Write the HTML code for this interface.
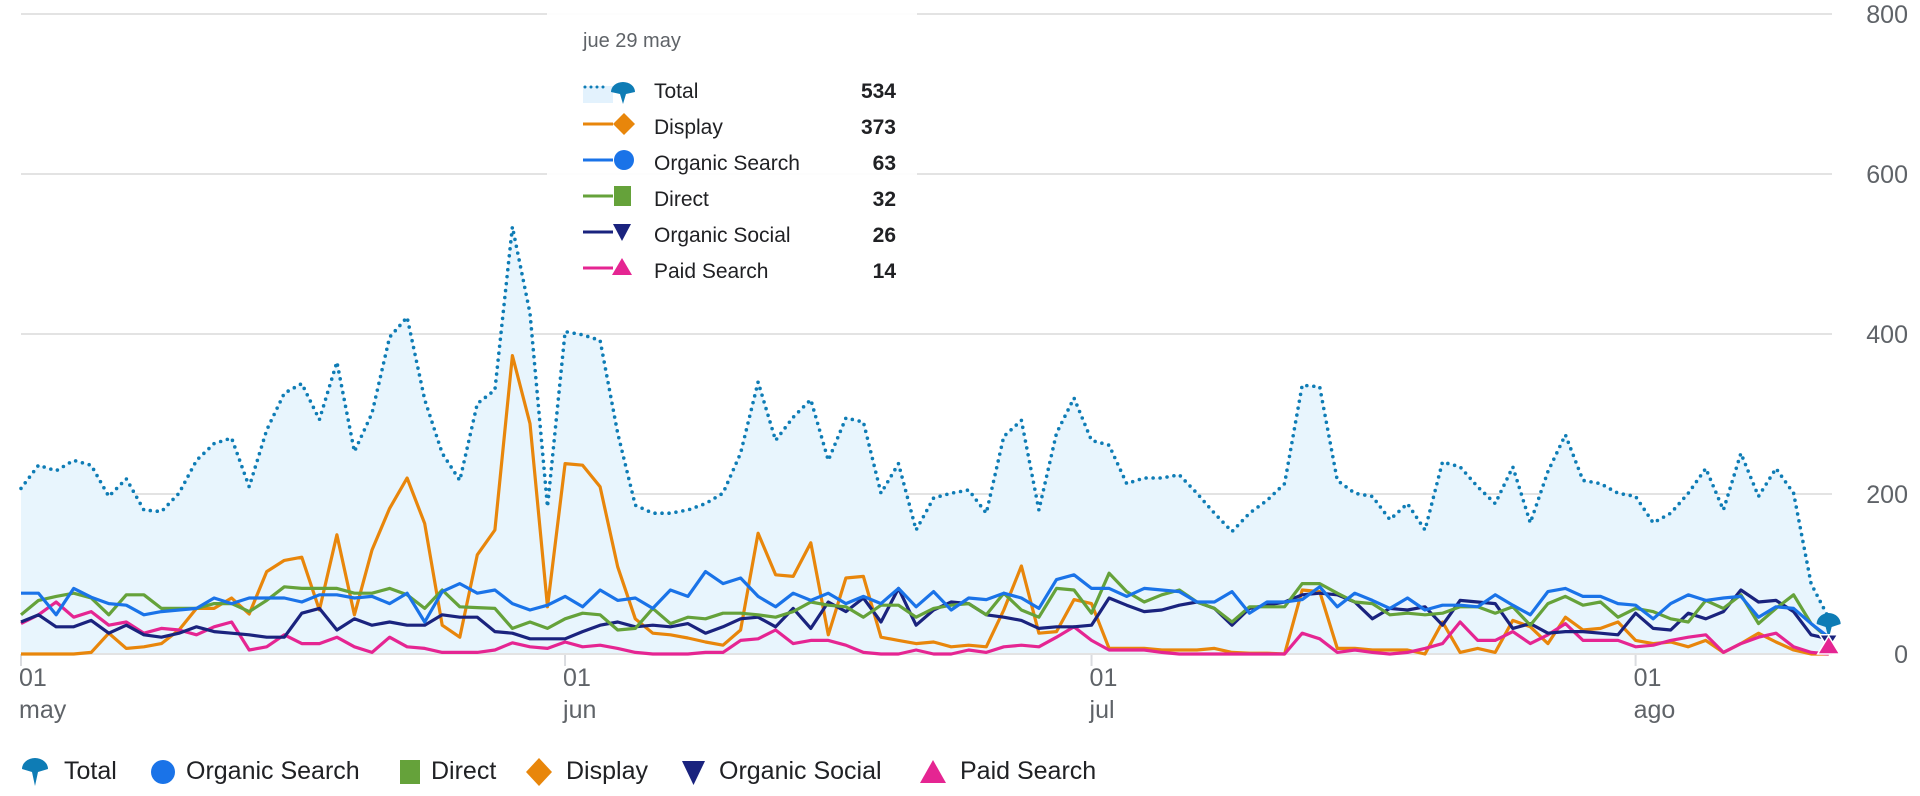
<!DOCTYPE html>
<html><head><meta charset="utf-8">
<style>
html,body{margin:0;padding:0;background:#fff;width:1920px;height:796px;overflow:hidden;font-family:"Liberation Sans",Roboto,sans-serif;}
svg{position:absolute;left:0;top:0;}
</style></head>
<body>
<svg id="chart" width="1920" height="796" xmlns="http://www.w3.org/2000/svg"></svg>
<script>
const totalVals=[207,236,229,242,236,197,219,180,178,201,242,263,270,209,280,326,338,293,365,253,301,396,421,318,251,217,313,330,534,426,184,403,399,392,276,186,176,176,180,188,201,251,340,267,296,318,242,295,290,201,238,155,195,201,205,176,272,292,180,276,320,267,261,213,220,220,224,201,176,153,176,192,213,336,334,217,201,197,168,188,155,240,234,209,188,234,164,228,274,217,213,201,197,164,176,201,232,180,251,197,232,201,88,45];
const displayVals=[0,0,0,0,2,26,7,9,13,30,57,57,70,50,103,117,121,55,149,49,130,182,220,163,36,21,124,155,373,288,59,238,236,209,109,44,26,24,20,15,11,30,151,99,97,139,24,95,97,21,17,13,15,9,11,9,55,110,26,28,68,63,7,7,7,5,5,5,7,2,1,1,0,80,78,7,7,5,5,5,0,40,2,7,2,42,34,13,46,30,32,40,17,13,15,9,17,2,13,26,15,5,0,0];
const organicSearchVals=[76,76,49,82,71,63,61,49,53,55,57,70,63,70,70,70,65,74,74,70,72,63,76,40,78,88,76,80,63,55,61,72,59,80,67,70,57,80,72,103,88,95,72,59,76,67,76,63,72,63,82,59,78,55,70,68,76,70,57,93,99,82,82,72,82,80,78,65,65,78,51,65,65,68,84,59,76,67,57,70,55,61,61,59,74,61,49,78,82,72,72,63,61,44,63,74,67,70,72,46,59,57,38,21];
const directVals=[49,67,72,76,70,49,74,74,57,57,57,63,63,53,67,84,82,82,82,76,76,82,74,57,80,59,58,57,32,40,32,44,51,49,30,32,57,38,46,44,51,51,49,46,53,65,61,59,46,61,61,46,57,61,63,49,76,55,46,82,80,51,101,78,65,74,80,65,57,40,59,59,59,88,88,76,65,63,49,51,49,51,59,59,51,59,36,63,72,61,65,46,57,53,44,40,67,57,74,38,57,74,38,19];
const organicSocialVals=[40,49,34,34,42,26,36,24,21,26,34,28,26,24,21,21,51,57,30,44,36,40,36,36,49,46,46,28,26,19,19,19,28,36,40,34,36,34,38,26,34,44,46,34,57,32,65,53,70,40,82,36,55,65,63,49,46,42,32,34,34,36,70,61,53,55,61,65,57,36,57,61,65,74,76,74,65,44,57,55,59,36,67,65,63,32,38,26,28,28,26,24,51,32,30,51,44,53,80,65,67,53,24,19];
const paidSearchVals=[38,49,65,46,53,36,40,26,32,30,24,34,40,5,9,24,13,13,21,9,2,21,9,7,2,2,2,5,14,9,7,15,9,11,7,2,0,0,0,2,2,17,19,30,13,17,17,11,2,0,0,5,0,0,5,2,9,11,9,21,34,17,5,5,5,2,0,0,0,0,0,0,0,26,19,2,5,2,0,2,7,13,40,17,17,28,13,24,38,17,17,17,9,11,17,21,24,2,13,21,26,9,2,0];
const yTicks=[0,200,400,600,800];
const xTickIdx=[0,31,61,92];
const xTickDay=["01","01","01","01"];
const xTickMonth=["may","jun","jul","ago"];
const tooltipIdx=28;

const NS="http://www.w3.org/2000/svg";
const svg=document.getElementById('chart');
const X0=21,DX=17.55,Y0=654,YS=0.8;
const xs=i=>X0+i*DX;
const ys=v=>Y0-v*YS;
function mk(t,a,p){const e=document.createElementNS(NS,t);for(const k in a)e.setAttribute(k,a[k]);(p||svg).appendChild(e);return e;}

// grid + y labels
yTicks.forEach(v=>{
  const g=mk('line',{x1:X0,x2:1832,y1:ys(v),y2:ys(v),stroke:'#e3e3e3','stroke-width':2});
  
  
  const t=mk('text',{x:1908,y:ys(v)+9,'text-anchor':'end','font-size':25,fill:'#5f6368'});
  t.textContent=v;
  
  
});
// x ticks
xTickIdx.forEach((ix,k)=>{
  const x=xs(ix);
  const l=mk('line',{x1:x,x2:x,y1:Y0,y2:Y0+12,stroke:'#dadce0','stroke-width':2});
  
  
  const t1=mk('text',{x:x-2,y:686,'font-size':25,fill:'#5f6368'});t1.textContent=xTickDay[k];
  
  
  const t2=mk('text',{x:x-2,y:718,'font-size':25,fill:'#5f6368'});t2.textContent=xTickMonth[k];
  
  
});
function pts(arr){return arr.map((v,i)=>xs(i).toFixed(1)+','+ys(v).toFixed(1)).join(' ');}
// area
const area=mk('polygon',{points:xs(0)+','+Y0+' '+pts(totalVals)+' '+xs(totalVals.length-1)+','+Y0,fill:'#e8f5fd'});


mk('line',{x1:X0,x2:1832,y1:Y0,y2:Y0,stroke:'#e3e3e3','stroke-width':2});
const series=[
 ['display-line',displayVals,'#e8860b'],
 ['paid-search-line',paidSearchVals,'#e52592'],
 ['organic-social-line',organicSocialVals,'#1a237e'],
 ['direct-line',directVals,'#65a23a'],
 ['organic-search-line',organicSearchVals,'#1a73e8'],
];
series.forEach(s=>{
  const p=mk('polyline',{points:pts(s[1]),fill:'none',stroke:s[2],'stroke-width':3.2,'stroke-linejoin':'round'});
  
  
});
const tl=mk('polyline',{points:pts(totalVals),fill:'none',stroke:'#0e7cb5','stroke-width':3.6,'stroke-dasharray':'0 7','stroke-linecap':'round'});


// end markers
const li=totalVals.length-1,ex=xs(li);
const m1=mk('path',{d:`M${ex-12},${ys(totalVals[li])+6} a12,11 0 0 1 24,0 l-9,3 l-3,12 l-3,-12 z`,fill:'#0e7cb5'});

const m2=mk('path',{d:`M${ex-9},${ys(organicSocialVals[li])-4} h18 l-9,14 z`,fill:'#1a237e',stroke:'#fff','stroke-width':1.5});

const m3=mk('path',{d:`M${ex},${ys(paidSearchVals[li])-18} l11,18 h-22 z`,fill:'#e52592',stroke:'#fff','stroke-width':1.5});

</script>

<div style="position:absolute;left:547px;top:0;width:370px;height:312px;background:rgba(255,255,255,0.93);font-size:21px;color:#202124;">
  <div style="position:absolute;left:36px;top:30px;font-size:20px;color:#5f6368;">jue 29 may</div>
  <svg width="370" height="312" style="position:absolute;left:0;top:0">
    <g><rect x="36" y="86" width="30" height="17" fill="#e3f2fd"/><line x1="38" y1="87" x2="62" y2="87" stroke="#0e7cb5" stroke-width="3" stroke-dasharray="0 6" stroke-linecap="round"/><path d="M64,92 a12,10 0 0 1 24,0 l-9,2 l-3,10 l-3,-10 z" fill="#0e7cb5"/></g>
    <g><line x1="36" y1="124" x2="66" y2="124" stroke="#e8860b" stroke-width="3"/><path d="M77,113 l11,11 l-11,11 l-11,-11 z" fill="#e8860b"/></g>
    <g><line x1="36" y1="160" x2="66" y2="160" stroke="#1a73e8" stroke-width="3"/><circle cx="77" cy="160" r="10" fill="#1a73e8"/></g>
    <g><line x1="36" y1="196" x2="66" y2="196" stroke="#65a23a" stroke-width="3"/><rect x="67" y="186" width="17" height="20" fill="#65a23a"/></g>
    <g><line x1="36" y1="232" x2="66" y2="232" stroke="#1a237e" stroke-width="3"/><path d="M66,224 h18 l-9,17 z" fill="#1a237e"/></g>
    <g><line x1="36" y1="268" x2="66" y2="268" stroke="#e52592" stroke-width="3"/><path d="M75,258 l10,17 h-20 z" fill="#e52592"/></g>
  </svg>
  <div style="position:absolute;left:107px;top:74px;line-height:36px;">
    <div>Total</div>
    <div>Display</div>
    <div>Organic Search</div>
    <div>Direct</div>
    <div>Organic Social</div>
    <div>Paid Search</div>
  </div>
  <div style="position:absolute;right:21px;top:74px;line-height:36px;text-align:right;font-weight:bold;">
    <div>534</div>
    <div>373</div>
    <div>63</div>
    <div>32</div>
    <div>26</div>
    <div>14</div>
  </div>
</div>

<div style="position:absolute;left:0;top:755px;height:34px;width:1200px;font-size:25px;color:#202124;">
  <svg width="1200" height="34" style="position:absolute;left:0;top:0">
    <path d="M22,14 a13,11 0 0 1 26,0 l-10,3 l-3,14 l-3,-14 z" fill="#0e7cb5"/>
    <circle cx="163" cy="17" r="12" fill="#1a73e8"/>
    <rect x="400" y="5" width="20" height="24" fill="#65a23a"/>
    <path d="M539,3 l13,14 l-13,14 l-13,-14 z" fill="#e8860b"/>
    <path d="M682,6 h23 l-11.5,24 z" fill="#1a237e"/>
    <path d="M933,5 l13,23 h-26 z" fill="#e52592"/>
  </svg>
  <span style="position:absolute;left:64px;top:2px;">Total</span>
  <span style="position:absolute;left:186px;top:2px;">Organic Search</span>
  <span style="position:absolute;left:431px;top:2px;">Direct</span>
  <span style="position:absolute;left:566px;top:2px;">Display</span>
  <span style="position:absolute;left:719px;top:2px;">Organic Social</span>
  <span style="position:absolute;left:960px;top:2px;">Paid Search</span>
</div>
</body></html>
